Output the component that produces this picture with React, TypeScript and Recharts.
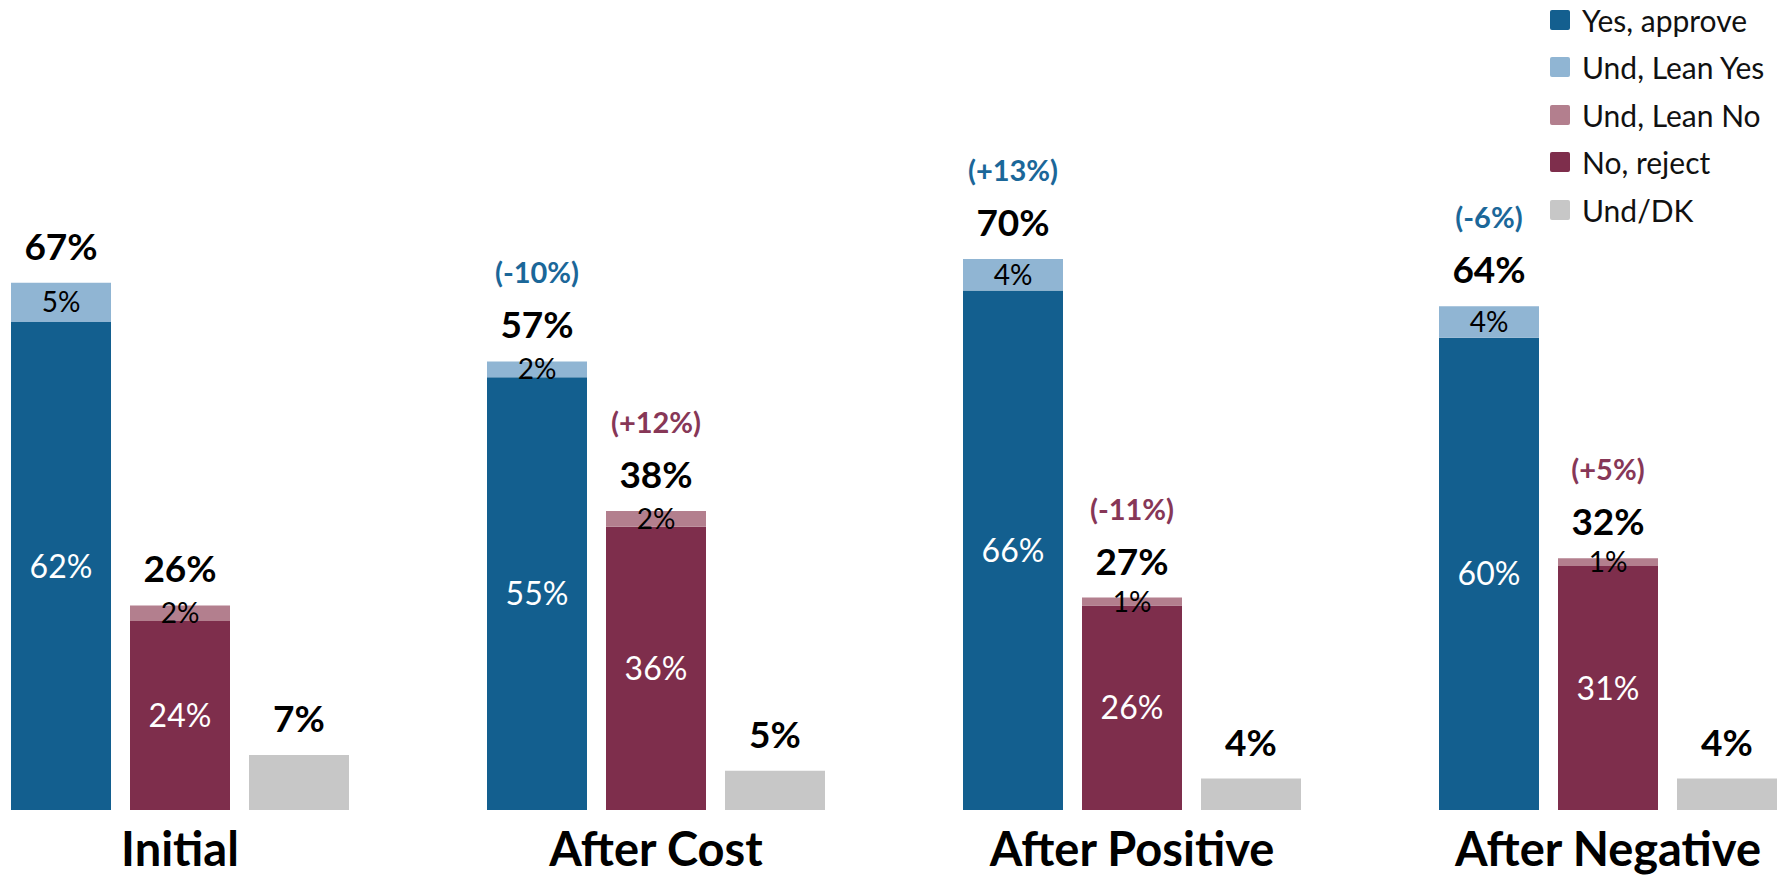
import React from 'react';
import { BarChart, Bar, XAxis, YAxis, LabelList, Legend } from 'recharts';

const categories = ['Initial', 'After Cost', 'After Positive', 'After Negative'];
const yesApprove = [62, 55, 66, 60];
const leanYes = [5, 2, 4, 4];
const noReject = [24, 36, 26, 31];
const leanNo = [2, 2, 1, 1];
const undDK = [7, 5, 4, 4];
const yesTotal = [67, 57, 70, 64];
const noTotal = [26, 38, 27, 32];
const yesChange = ['', '(-10%)', '(+13%)', '(-6%)'];
const noChange = ['', '(+12%)', '(-11%)', '(+5%)'];
const legendNames = ['Yes, approve', 'Und, Lean Yes', 'Und, Lean No', 'No, reject', 'Und/DK'];

const C_YES = '#135F8F';
const C_LEANYES = '#90B5D3';
const C_LEANNO = '#B37F8E';
const C_NO = '#7E2E4C';
const C_DK = '#C7C7C7';
const legendColors = [C_YES, C_LEANYES, C_LEANNO, C_NO, C_DK];
const C_CHG_YES = '#1B6799';
const C_CHG_NO = '#873757';
const FONT = 'Lato, "Open Sans", sans-serif';

const data = categories.map((c, i) => ({
  name: c,
  yes: yesApprove[i],
  leanYes: leanYes[i],
  no: noReject[i],
  leanNo: leanNo[i],
  dk: undDK[i],
  yesTotal: yesTotal[i],
  noTotal: noTotal[i],
  yesChange: yesChange[i],
  noChange: noChange[i],
}));

const getBox = (p: any) => {
  const vb = p.viewBox && typeof p.viewBox.x === 'number' ? p.viewBox : p;
  return { x: Number(vb.x), y: Number(vb.y), width: Number(vb.width), height: Number(vb.height) };
};

const centerLabel = (color: string, size: number) => (p: any) => {
  const { x, y, width, height } = getBox(p);
  if (p.value === undefined || p.value === null || p.value === '') return null;
  return (
    <text x={x + width / 2} y={y + height / 2} dy="0.36em" textAnchor="middle" fontFamily={FONT} fontSize={size} fill={color}>
      {`${p.value}%`}
    </text>
  );
};

const totalLabel = (p: any) => {
  const { x, y, width } = getBox(p);
  return (
    <text x={x + width / 2} y={y - 23} textAnchor="middle" fontFamily={FONT} fontWeight={700} fontSize={37} fill="#000">
      {`${p.value}%`}
    </text>
  );
};

const changeLabel = (color: string) => (p: any) => {
  const { x, y, width } = getBox(p);
  if (!p.value) return null;
  return (
    <text x={x + width / 2} y={y - 78} textAnchor="middle" fontFamily={FONT} fontWeight={700} fontSize={29} fill={color}>
      {p.value}
    </text>
  );
};

const AxisTick = (props: any) => {
  const { x, y, payload } = props;
  return (
    <text x={x} y={y + 56} textAnchor="middle" fontFamily={FONT} fontWeight={700} fontSize={47} fill="#000">
      {payload.value}
    </text>
  );
};

const renderLegend = () => (
  <div style={{ fontFamily: FONT, fontSize: 30, color: '#111' }}>
    {legendNames.map((n, i) => (
      <div key={n} style={{ display: 'flex', alignItems: 'center', height: 47.5 }}>
        <span style={{ display: 'inline-block', width: 20, height: 20, borderRadius: 2, background: legendColors[i], marginRight: 12 }} />
        <span>{n}</span>
      </div>
    ))}
  </div>
);

export default function App() {
  return (
    <div style={{ position: 'absolute', left: 0, top: 0, width: 1783, height: 879, background: '#fff' }}>
      <BarChart
        width={1783}
        height={879}
        data={data}
        margin={{ top: 23, right: -63, bottom: 9, left: -58 }}
        barSize={100}
        barGap={19}
      >
        <XAxis dataKey="name" axisLine={false} tickLine={false} tickSize={0} tickMargin={0} height={60} tick={<AxisTick />} interval={0} />
        <YAxis hide domain={[0, 100]} />
        <Legend layout="vertical" align="center" verticalAlign="middle" content={renderLegend}
          wrapperStyle={{ position: 'absolute', left: 1550, top: -4, width: 233 }} />
        <Bar dataKey="yes" stackId="y" fill={C_YES} isAnimationActive={false} name="Yes, approve">
          <LabelList dataKey="yes" content={centerLabel('#fff', 32)} />
        </Bar>
        <Bar dataKey="leanYes" stackId="y" fill={C_LEANYES} isAnimationActive={false} name="Und, Lean Yes">
          <LabelList dataKey="leanYes" content={centerLabel('#000', 28)} />
          <LabelList dataKey="yesTotal" content={totalLabel} />
          <LabelList dataKey="yesChange" content={changeLabel(C_CHG_YES)} />
        </Bar>
        <Bar dataKey="no" stackId="n" fill={C_NO} isAnimationActive={false} name="No, reject">
          <LabelList dataKey="no" content={centerLabel('#fff', 32)} />
        </Bar>
        <Bar dataKey="leanNo" stackId="n" fill={C_LEANNO} isAnimationActive={false} name="Und, Lean No">
          <LabelList dataKey="leanNo" content={centerLabel('#000', 28)} />
          <LabelList dataKey="noTotal" content={totalLabel} />
          <LabelList dataKey="noChange" content={changeLabel(C_CHG_NO)} />
        </Bar>
        <Bar dataKey="dk" stackId="d" fill={C_DK} isAnimationActive={false} name="Und/DK">
          <LabelList dataKey="dk" content={totalLabel} />
        </Bar>
      </BarChart>
    </div>
  );
}
